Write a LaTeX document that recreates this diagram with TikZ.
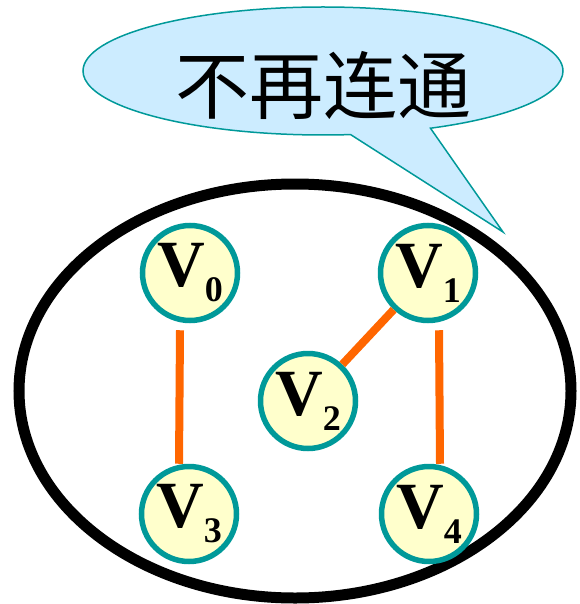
\documentclass[tikz,border=0pt]{standalone}
\usepackage{fontspec}
\setmainfont{Liberation Serif}
\newfontfamily\cjk{Noto Sans CJK SC}
\usetikzlibrary{shapes.callouts}
\definecolor{vteal}{RGB}{0,153,153}
\definecolor{vyellow}{RGB}{255,255,204}
\definecolor{vorange}{RGB}{255,102,0}
\definecolor{bubble}{RGB}{204,236,255}
\newcommand{\vx}[1]{\bfseries V\raisebox{-15pt}{\fontsize{36}{36}\selectfont #1}}

\begin{document}
\begin{tikzpicture}[x=1pt,y=-1pt,
  vert/.style={circle,draw=vteal,fill=vyellow,line width=5.5pt,minimum size=95pt,inner sep=0pt,font=\fontsize{66}{66}\selectfont},
  edge/.style={vorange,line width=8pt}]
\useasboundingbox (0,0) rectangle (579,604);
\node[ellipse callout,draw=vteal,fill=bubble,line width=1.5pt,minimum width=480pt,minimum height=128pt,inner sep=0pt,
  text height=86pt,text depth=0pt,callout absolute pointer={(503,232)},callout pointer arc=20,
  font=\cjk\fontsize{74}{74}\selectfont] (say) at (323,71) {不再连通};
\draw[line width=11pt] (295,391) ellipse [x radius=276,y radius=207];
\node[vert] (v0) at (190,273) {\vx0};
\node[vert] (v1) at (428,273) {\vx1};
\node[vert] (v2) at (308,401) {\vx2};
\node[vert] (v3) at (189,514) {\vx3};
\node[vert] (v4) at (429,514) {\vx4};
\draw[edge] ([xshift=-10pt,yshift=-7pt]v0.south) -- ([xshift=-10pt]v3.north);
\draw[edge] ([xshift=11pt,yshift=-7pt]v1.south) -- ([xshift=11pt]v4.north);
\draw[edge] (v2) -- (v1);
\end{tikzpicture}
\end{document}
